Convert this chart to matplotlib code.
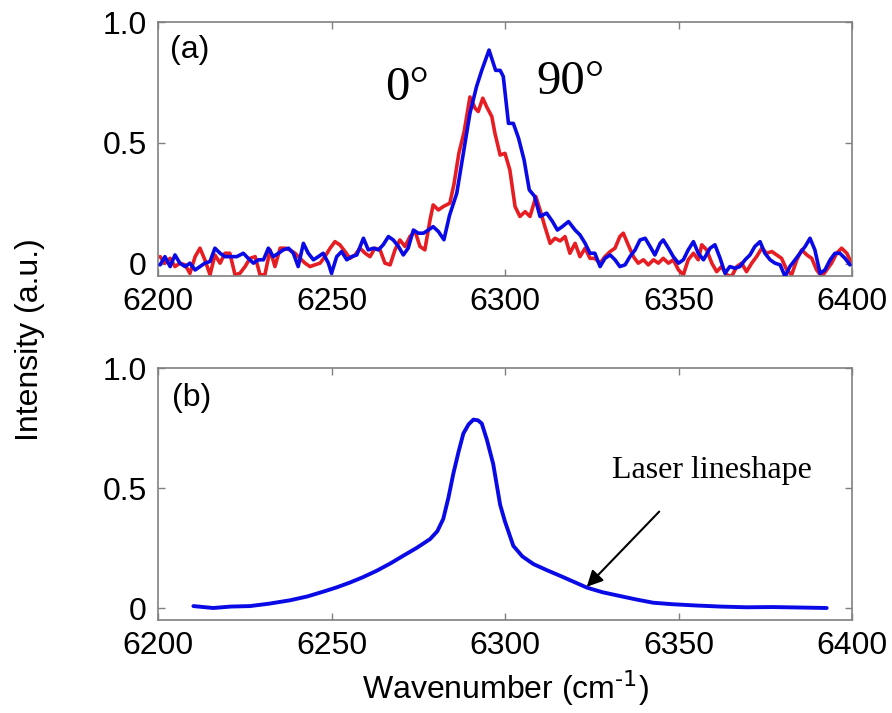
import matplotlib
matplotlib.use("Agg")
import matplotlib.pyplot as plt
import numpy as np

# ---------------- data ----------------
blue_x = [6200.6, 6202.0, 6203.5, 6204.9, 6206.3, 6207.8, 6209.2, 6210.7, 6212.1, 6213.5,
          6215.0, 6216.4, 6217.9, 6219.3, 6220.7, 6222.7, 6224.6, 6226.0, 6227.5, 6228.9,
          6230.4, 6231.8, 6233.2, 6234.7, 6236.1, 6237.6, 6239.0, 6240.4, 6241.9, 6243.3,
          6244.8, 6246.2, 6247.6, 6249.1, 6250.0, 6251.5, 6252.9, 6254.4, 6255.8, 6257.3,
          6259.2, 6260.6, 6262.1, 6263.5, 6264.9, 6266.4, 6267.8, 6269.3, 6270.7, 6272.1,
          6273.6, 6275.0, 6276.5, 6277.9, 6279.3, 6280.8, 6282.4, 6284.0, 6286.1, 6288.0,
          6289.9, 6291.8, 6293.3, 6295.4, 6297.3, 6298.6, 6299.5, 6301.0, 6302.4, 6303.9,
          6305.5, 6307.0, 6308.5, 6310.1, 6312.0, 6313.7, 6315.1, 6316.5, 6318.3, 6320.2,
          6321.6, 6323.1, 6324.5, 6325.9, 6327.4, 6328.8, 6330.3, 6331.7, 6333.1, 6334.6,
          6336.0, 6337.5, 6338.9, 6340.4, 6341.8, 6343.2, 6344.7, 6345.6, 6347.1, 6348.5,
          6350.0, 6351.4, 6352.8, 6354.3, 6355.7, 6357.2, 6359.1, 6360.5, 6362.0, 6363.4,
          6364.8, 6366.3, 6367.7, 6369.2, 6370.6, 6372.0, 6373.5, 6374.9, 6376.4, 6377.8,
          6379.3, 6380.7, 6382.1, 6383.6, 6385.0, 6386.5, 6387.9, 6389.3, 6390.8, 6392.2,
          6393.7, 6395.1, 6396.5, 6398.0, 6399.4]
blue_y = [-0.004, 0.030, -0.011, 0.037, 0.003, -0.011, 0.003, -0.025, -0.011, 0.003,
          0.010, 0.065, 0.044, 0.030, 0.030, 0.030, 0.044, 0.023, 0.003, 0.017,
          0.017, 0.065, 0.030, 0.044, 0.058, 0.065, 0.044, -0.011, 0.085, 0.044,
          0.017, 0.030, 0.044, 0.003, -0.039, 0.030, 0.051, 0.017, 0.030, 0.037,
          0.106, 0.058, 0.065, 0.058, 0.079, 0.113, 0.099, 0.072, 0.037, 0.065,
          0.140, 0.127, 0.127, 0.140, 0.154, 0.134, 0.100, 0.200, 0.292, 0.457,
          0.623, 0.733, 0.800, 0.884, 0.800, 0.800, 0.775, 0.581, 0.581, 0.520,
          0.430, 0.306, 0.280, 0.196, 0.210, 0.175, 0.140, 0.154, 0.175, 0.140,
          0.120, 0.085, 0.044, 0.044, -0.011, 0.023, 0.037, 0.017, -0.011, -0.004,
          0.030, 0.058, 0.099, 0.106, 0.072, 0.037, 0.085, 0.099, 0.065, 0.030,
          0.003, 0.017, 0.058, 0.092, 0.044, 0.017, 0.065, 0.079, 0.023, -0.039,
          -0.011, -0.018, -0.011, 0.017, 0.037, 0.072, 0.092, 0.044, 0.017, 0.003,
          -0.004, -0.052, -0.011, 0.017, 0.044, 0.072, 0.106, 0.058, -0.039, -0.025,
          0.017, 0.044, 0.044, 0.023, -0.004]

red_x = [6200.6, 6202.0, 6203.5, 6204.9, 6206.3, 6207.8, 6209.2, 6210.7, 6212.1, 6213.5,
         6215.0, 6216.4, 6217.9, 6219.3, 6220.7, 6222.2, 6223.6, 6225.1, 6226.5, 6228.0,
         6229.4, 6230.8, 6232.3, 6233.7, 6235.2, 6236.6, 6238.0, 6239.5, 6240.9, 6242.4,
         6243.8, 6245.2, 6246.7, 6248.1, 6249.6, 6251.0, 6252.4, 6253.9, 6255.3, 6256.8,
         6258.2, 6259.7, 6261.1, 6262.5, 6264.0, 6265.4, 6266.9, 6268.3, 6269.7, 6271.2,
         6272.6, 6274.1, 6275.5, 6276.9, 6278.4, 6279.3, 6280.8, 6282.2, 6284.1, 6285.3,
         6286.7, 6288.2, 6289.9, 6291.4, 6292.3, 6293.6, 6294.7, 6296.2, 6297.1, 6298.6,
         6300.0, 6301.4, 6302.9, 6304.3, 6305.8, 6307.2, 6308.9, 6310.1, 6311.5, 6313.0,
         6314.4, 6315.9, 6317.3, 6318.7, 6320.2, 6321.6, 6323.1, 6324.5, 6325.9, 6327.4,
         6328.8, 6330.3, 6331.7, 6333.1, 6334.1, 6335.5, 6337.0, 6338.4, 6339.9, 6341.3,
         6342.8, 6344.2, 6345.6, 6347.1, 6348.5, 6350.0, 6351.4, 6352.8, 6354.3, 6355.7,
         6356.7, 6358.1, 6359.6, 6361.0, 6362.4, 6363.9, 6365.3, 6366.8, 6368.2, 6369.6,
         6371.1, 6372.5, 6374.0, 6375.4, 6376.9, 6378.3, 6379.7, 6381.2, 6382.6, 6384.1,
         6385.5, 6387.0, 6388.4, 6389.8, 6391.3, 6392.7, 6394.1, 6395.6, 6397.0, 6398.5,
         6399.9]
red_y = [0.030, 0.003, 0.023, -0.011, 0.003, -0.004, -0.039, 0.030, 0.065, 0.017,
         -0.045, 0.037, 0.003, 0.044, 0.044, -0.045, -0.039, -0.011, 0.023, 0.030,
         -0.045, -0.045, 0.058, -0.011, 0.065, 0.065, 0.058, 0.044, 0.023, 0.003,
         -0.011, -0.004, 0.003, 0.030, 0.065, 0.092, 0.079, 0.051, 0.023, 0.037,
         0.065, 0.044, 0.030, 0.065, 0.058, 0.003, -0.004, 0.058, 0.099, 0.072,
         0.113, 0.134, 0.072, 0.058, 0.182, 0.244, 0.223, 0.237, 0.251, 0.330,
         0.457, 0.545, 0.690, 0.643, 0.630, 0.685, 0.650, 0.609, 0.540, 0.450,
         0.457, 0.388, 0.237, 0.196, 0.216, 0.196, 0.278, 0.223, 0.154, 0.085,
         0.106, 0.095, 0.113, 0.044, 0.085, 0.030, 0.065, 0.023, 0.023, 0.003,
         0.030, 0.051, 0.065, 0.113, 0.127, 0.079, 0.030, 0.003, 0.017, -0.004,
         0.017, 0.003, 0.023, 0.003, 0.017, -0.025, -0.045, 0.017, 0.044, 0.017,
         0.079, 0.058, 0.003, -0.032, -0.011, -0.045, -0.052, -0.011, 0.003, -0.032,
         0.003, 0.030, 0.065, 0.044, 0.051, 0.037, 0.023, -0.025, -0.045, 0.017,
         0.058, 0.037, 0.023, -0.025, -0.052, -0.025, 0.003, 0.044, 0.065, 0.044,
         0.003]

laser_x = [6210.2, 6215.9, 6221.0, 6226.5, 6232.0, 6238.0, 6243.0, 6247.6, 6251.5, 6255.3,
           6259.0, 6263.0, 6267.0, 6270.7, 6274.5, 6278.4, 6280.5, 6282.2, 6283.7, 6285.1,
           6286.6, 6288.0, 6289.5, 6290.9, 6292.2, 6293.3, 6294.8, 6296.6, 6298.6, 6300.0,
           6302.4, 6305.0, 6308.2, 6312.0, 6315.9, 6320.0, 6323.6, 6328.0, 6333.1, 6338.0,
           6342.7, 6348.0, 6354.3, 6362.0, 6369.6, 6377.0, 6385.0, 6392.7]
laser_y = [0.008, 0.000, 0.006, 0.008, 0.018, 0.032, 0.048, 0.068, 0.086, 0.106,
           0.128, 0.155, 0.186, 0.218, 0.250, 0.287, 0.320, 0.371, 0.460, 0.559,
           0.650, 0.727, 0.765, 0.785, 0.782, 0.769, 0.700, 0.600, 0.430, 0.360,
           0.259, 0.215, 0.183, 0.158, 0.134, 0.108, 0.085, 0.066, 0.050, 0.035,
           0.022, 0.016, 0.011, 0.006, 0.003, 0.004, 0.002, 0.000]

xticks = [6200, 6250, 6300, 6350, 6400]
yticks = [0, 0.5, 1.0]
ytick_labels = ["0", "0.5", "1.0"]

# ---------------- style ----------------
SANS = "Liberation Sans"
SERIF = "Liberation Serif"
BLUE = "#0a0ae6"
RED = "#e61e23"
GRAY = "#808080"

W, H = 892, 713
fig = plt.figure(figsize=(W / 100, H / 100), dpi=100)

def px_axes(left, top, right, bottom):
    return fig.add_axes([left / W, 1 - bottom / H, (right - left) / W, (bottom - top) / H])

ax_a = px_axes(158, 22, 852, 276)
ax_b = px_axes(158, 368, 852, 620)

for ax in (ax_a, ax_b):
    ax.set_xlim(6200, 6400)
    ax.set_ylim(-0.05, 1.0)
    ax.set_xticks(xticks)
    ax.set_xticklabels([str(t) for t in xticks])
    ax.set_yticks(yticks)
    ax.set_yticklabels(ytick_labels)
    ax.tick_params(direction="in", top=True, right=True, length=5, width=1.0,
                   color=GRAY, labelsize=23, pad=8)
    for lab in ax.get_xticklabels() + ax.get_yticklabels():
        lab.set_fontfamily(SANS)
    for sp in ax.spines.values():
        sp.set_color(GRAY)
        sp.set_linewidth(1.2)

line_kw = dict(solid_joinstyle="round", solid_capstyle="round")
ax_a.plot(red_x, red_y, color=RED, lw=2.6, zorder=2, **line_kw)
ax_a.plot(blue_x, blue_y, color=BLUE, lw=2.6, zorder=3, **line_kw)
ax_b.plot(laser_x, laser_y, color=BLUE, lw=2.8, **line_kw)

ax_a.text(0.046, 0.89, "(a)", transform=ax_a.transAxes, ha="center", va="center",
          fontsize=23, family=SANS)
ax_b.text(0.049, 0.881, "(b)", transform=ax_b.transAxes, ha="center", va="center",
          fontsize=23, family=SANS)

ax_a.text(6271.8, 0.727, "0°", ha="center", va="center", fontsize=35, family=SERIF)
ax_a.text(6319.0, 0.752, "90°", ha="center", va="center", fontsize=35, family=SERIF)

ax_b.text(6359.7, 0.54, "Laser lineshape", ha="center", va="baseline", fontsize=23, family=SERIF)
ax_b.annotate("", xy=(6323, 0.08), xytext=(6345, 0.41),
              arrowprops=dict(arrowstyle="-|>", color="black", lw=1.5, mutation_scale=24))

fig.text(505 / W, 1 - 688 / H, r"Wavenumber (cm$^{\text{-1}}$)", ha="center", va="center",
         fontsize=23, family=SANS)
fig.text(30 / W, 1 - 340 / H, "Intensity (a.u.)", ha="center", va="center", rotation=90,
         fontsize=23, family=SANS)

fig.savefig("out.png", dpi=100)
